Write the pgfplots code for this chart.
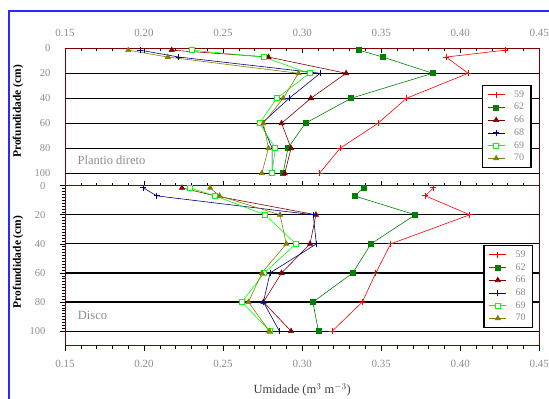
\documentclass[border=0pt]{standalone}
\usepackage{fontspec}
\setmainfont{Liberation Serif}
\usepackage{pgfplots}
\pgfplotsset{compat=1.18}
\definecolor{c59}{RGB}{255,0,0}
\definecolor{c62}{RGB}{0,128,0}
\definecolor{c66}{RGB}{128,0,0}
\definecolor{c68}{RGB}{0,0,128}
\definecolor{c69}{RGB}{0,255,0}
\definecolor{c70}{RGB}{128,128,0}
\definecolor{frameblue}{RGB}{40,40,255}
\definecolor{txtgray}{RGB}{140,140,140}
\pgfplotsset{
  panel/.style={
    scale only axis, width=474.3pt,
    xmin=0.15, xmax=0.45, ymin=0, ymax=110, y dir=reverse,
    xtick={0.15,0.20,0.25,0.30,0.35,0.40,0.45},
    minor x tick num=4,
    ytick={0,20,40,60,80,100},
    ytick pos=left,
    extra y ticks={20,40,60,80,100},
    extra y tick labels={},
    extra y tick style={ymajorgrids=true, major tick length=0pt,
      major grid style={black, line width=1.2pt}},
    axis line style={color=c66, line width=0.8pt},
    tick style={black, line width=0.6pt},
    major tick length=5pt, minor tick length=3pt,
    /pgf/number format/.cd, fixed, fixed zerofill, precision=2, assume math mode=true,
    /pgfplots/.cd,
    xticklabel style={text=txtgray, font=\fontsize{11}{13}\selectfont},
    yticklabel style={text=txtgray, font=\fontsize{10.5}{12}\selectfont, /pgf/number format/precision=0, /pgf/number format/fixed zerofill=false, xshift=-11pt},
    ylabel={\textbf{Profundidade (cm)}},
    ylabel style={font=\fontsize{11.5}{13}\selectfont, anchor=center},
    legend cell align=left,
    legend style={draw=black, line width=1.3pt, fill=white, font=\fontsize{10}{10}\selectfont, text=txtgray,
      inner xsep=5pt, inner ysep=3pt, row sep=0.6pt, column sep=7pt, anchor=north west},
    every axis plot/.append style={line width=0.6pt},
    clip=false,
  },
  s59/.style={c59, mark=+, mark size=3pt, mark options={solid, line width=0.8pt}},
  s62/.style={c62, mark=square*, mark size=2.5pt, mark options={solid}},
  s66/.style={c66, mark=triangle*, mark size=3pt, mark options={solid}},
  s68/.style={c68, mark=+, mark size=3pt, mark options={solid, line width=0.8pt}},
  s69/.style={c69, mark=square*, mark size=2.5pt, mark options={solid, fill=white}},
  s70/.style={c70, mark=triangle*, mark size=3pt, mark options={solid}},
}
\begin{document}
\begin{tikzpicture}[x=1pt,y=1pt]
\useasboundingbox (0,0) rectangle (549,399);
\draw[frameblue, line width=1.5pt] (9,-20) rectangle (570,388);
% top panel
\begin{axis}[panel, at={(65pt,213.3pt)}, anchor=south west, height=137.4pt,
  xticklabel pos=upper, tick align=inside,
  xticklabel style={yshift=8pt},
  ylabel style={at={(axis description cs:-0.099,0.54)}},
  legend style={at={(0.8786,0.733)}}]
\addplot[s59] coordinates {(0.4285,1.5) (0.391,7) (0.405,20) (0.366,40) (0.348,60) (0.324,80) (0.311,100)};
\addplot[s62] coordinates {(0.336,1.5) (0.351,7) (0.3825,20) (0.331,40) (0.302,60) (0.291,80) (0.288,100)};
\addplot[s66] coordinates {(0.2175,1.5) (0.2787,7) (0.3278,20) (0.3055,40) (0.287,60) (0.293,80) (0.289,100)};
\addplot[s68] coordinates {(0.1975,1.5) (0.222,7) (0.3114,20) (0.2918,40) (0.2745,60) (0.281,80) (0.281,100)};
\addplot[s69] coordinates {(0.230,1.5) (0.2755,7) (0.3046,20) (0.284,40) (0.273,60) (0.283,80) (0.281,100)};
\addplot[s70] coordinates {(0.190,1.5) (0.215,7) (0.2977,20) (0.288,40) (0.2755,60) (0.2787,80) (0.2745,100)};
\legend{59,62,66,68,69,70}
\node[text=txtgray, font=\fontsize{12.5}{14}\selectfont] at (axis cs:0.1794,90) {Plantio direto};
\end{axis}
% bottom panel
\begin{axis}[panel, at={(65pt,53.3pt)}, anchor=south west, height=160pt,
  xticklabel pos=lower, xtick pos=lower, tick align=outside,
  xticklabel style={yshift=-6pt},
  minor y tick num=9,
  ylabel style={at={(axis description cs:-0.099,0.523)}},
  xlabel={Umidade (m$^{3}$ m$^{-3}$)},
  xlabel style={font=\fontsize{12.5}{14}\selectfont, text=black!75, at={(axis description cs:0.5,-0.277)}, anchor=center},
  legend style={at={(0.882,0.629)}}]
\addplot[s59] coordinates {(0.383,1.5) (0.378,7) (0.406,20) (0.356,40) (0.3466,60) (0.338,80) (0.319,100)};
\addplot[s62] coordinates {(0.339,1.5) (0.333,7) (0.3715,20) (0.3435,40) (0.332,60) (0.3068,80) (0.3103,100)};
\addplot[s66] coordinates {(0.224,1.5) (0.245,7) (0.3087,20) (0.305,40) (0.287,60) (0.2755,80) (0.293,100)};
\addplot[s68] coordinates {(0.1996,1.5) (0.208,7) (0.307,20) (0.309,40) (0.2797,60) (0.2755,80) (0.2856,100)};
\addplot[s69] coordinates {(0.229,1.5) (0.245,7) (0.2766,20) (0.296,40) (0.276,60) (0.2618,80) (0.2797,100)};
\addplot[s70] coordinates {(0.2418,1.5) (0.2477,7) (0.286,20) (0.290,40) (0.2745,60) (0.266,80) (0.2793,100)};
\legend{59,62,66,68,69,70}
\node[text=txtgray, font=\fontsize{12.5}{14}\selectfont] at (axis cs:0.1674,89) {Disco};
\end{axis}
\end{tikzpicture}
\end{document}
